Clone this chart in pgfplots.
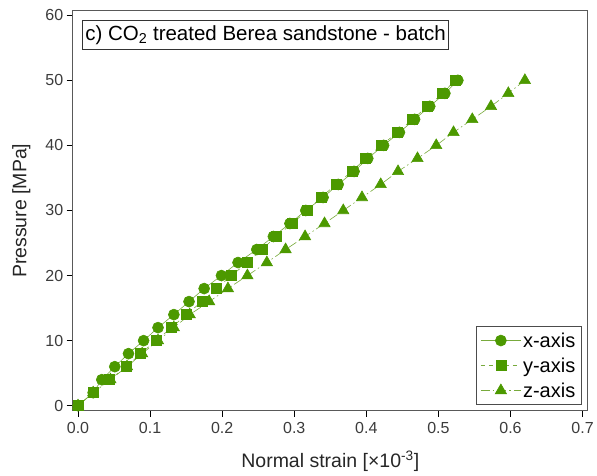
\documentclass[border=0pt]{standalone}
\usepackage{pgfplots}
\pgfplotsset{compat=1.18}
\usepackage{fontspec}
\setmainfont{Liberation Sans}
\definecolor{mk}{RGB}{76,153,0}
\definecolor{ln}{RGB}{120,170,60}
\definecolor{tk}{RGB}{60,60,60}
\begin{document}
\begin{tikzpicture}
\begin{axis}[
  scale only axis,
  width=515.3pt, height=400.3pt,
  xmin=-0.0074, xmax=0.7074,
  ymin=-0.8, ymax=60.7,
  xtick={0,0.1,...,0.7},
  ytick={0,10,...,60},
  xticklabel style={yshift=-2pt, /pgf/number format/.cd,fixed,fixed zerofill,precision=1},
  /pgf/number format/assume math mode=true,
  tick align=outside,
  tick pos=left,
  major tick length=6pt,
  tick style={black, line width=0.8pt},
  axis line style={draw=black!65, line width=1pt},
  ticklabel style={font=\fontsize{16}{18}\selectfont, text=tk},
  xlabel={Normal strain [×10\textsuperscript{-3}]},
  ylabel={Pressure [MPa]},
  label style={font=\fontsize{19.5}{22}\selectfont, text=black!85},
  xlabel shift=10pt,
  ylabel shift=8pt,
  legend style={at={(rel axis cs:0.988,0.015)}, anchor=south east,
    font=\fontsize{20}{22}\selectfont, draw=black!70, line width=0.8pt,
    inner xsep=4pt, inner ysep=4pt, row sep=5pt},
  legend cell align=left,
  legend image code/.code={
    \draw[#1, mark repeat=2, mark phase=2] plot coordinates {(0cm,0cm) (0.7cm,0cm) (1.4cm,0cm)};
  },
]
\addplot[ln, line width=0.6pt, mark=*, mark size=5.5pt, mark options={solid, fill=mk, draw=mk}] coordinates {
(0.0,0) (0.021,2) (0.033,4) (0.051,6) (0.070,8) (0.091,10) (0.111,12) (0.133,14) (0.154,16) (0.175,18) (0.199,20) (0.222,22) (0.248,24) (0.271,26) (0.294,28) (0.316,30) (0.340,32) (0.361,34) (0.383,36) (0.402,38) (0.424,40) (0.446,42) (0.467,44) (0.488,46) (0.509,48) (0.527,50)
};
\addlegendentry{x-axis}
\addplot[ln, line width=0.6pt, dash pattern=on 4pt off 4pt, mark=square*, mark size=5pt, mark options={solid, fill=mk, draw=mk}] coordinates {
(0.0,0) (0.021,2) (0.044,4) (0.067,6) (0.087,8) (0.108,10) (0.130,12) (0.150,14) (0.172,16) (0.192,18) (0.213,20) (0.235,22) (0.255,24) (0.275,26) (0.297,28) (0.318,30) (0.337,32) (0.358,34) (0.380,36) (0.399,38) (0.421,40) (0.443,42) (0.464,44) (0.485,46) (0.506,48) (0.523,50)
};
\addlegendentry{y-axis}
\addplot[ln, line width=0.6pt, dash pattern=on 9pt off 3pt on 1.5pt off 3pt, mark=triangle*, mark size=6.5pt, mark options={solid, fill=mk, draw=mk}] coordinates {
(0.0,0) (0.021,2) (0.045,4) (0.068,6) (0.089,8) (0.111,10) (0.133,12) (0.155,14) (0.182,16) (0.208,18) (0.235,20) (0.262,22) (0.288,24) (0.315,26) (0.342,28) (0.368,30) (0.394,32) (0.420,34) (0.444,36) (0.471,38) (0.497,40) (0.521,42) (0.547,44) (0.573,46) (0.597,48) (0.620,50)
};
\addlegendentry{z-axis}
\node[draw=black!80, line width=0.8pt, anchor=north west, fill=white,
  font=\fontsize{20.5}{24}\selectfont, inner xsep=3pt, inner ysep=5pt]
  at ([xshift=9.3pt, yshift=-9.3pt]rel axis cs:0,1) {c) CO\textsubscript{2} treated Berea sandstone - batch};
\end{axis}
\useasboundingbox ([xshift=-72.7pt, yshift=-65pt]current axis.south west) rectangle ([xshift=9pt, yshift=10.7pt]current axis.north east);
\end{tikzpicture}
\end{document}
